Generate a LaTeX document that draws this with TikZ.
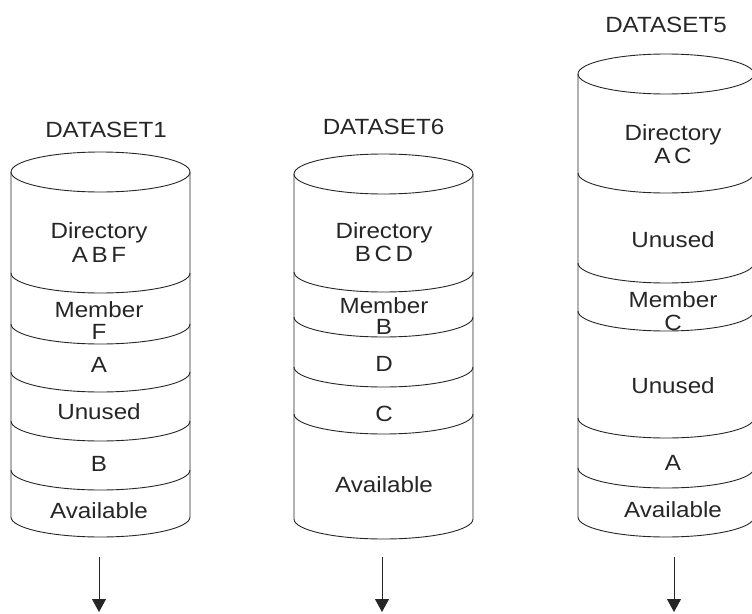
\documentclass[tikz,border=0pt]{standalone}
\usepackage{fontspec}
\setmainfont{Liberation Sans}[FakeStretch=1.1]
\usetikzlibrary{arrows.meta}
% #1 cx, #2 half width, #3 top ellipse centre y, #4 bottom side y, #5 separator side ys
\newcommand\drawdrum[5]{%
  \draw (#1,-#3) ellipse[x radius=#2, y radius=20];
  \draw (#1-#2,-#3) -- (#1-#2,-#4) arc[start angle=180, end angle=360, x radius=#2, y radius=20] -- (#1+#2,-#3);
  \foreach \s in {#5} {\draw (#1-#2,-\s) arc[start angle=180, end angle=360, x radius=#2, y radius=20];}
}
\tikzset{
  lbl/.style={anchor=base, inner sep=0pt, font=\fontsize{22}{24}\selectfont, text=black!85},
  flow/.style={-{Triangle[width=14pt,length=13pt]}, line width=0.9pt}
}
\begin{document}
\begin{tikzpicture}[x=1pt, y=1pt, line width=0.9pt, draw=black!85]
\path[use as bounding box, clip] (0,0) rectangle (752,-613);

% DATASET1
\drawdrum{100.5}{89.5}{172}{517}{273,324,372,421,470}
\node[lbl] (t1) at (106,-137) {DATASET1};
\node[lbl] (d1) at (99,-238) {Directory};
\node[lbl] (d1b) at (99,-262) {A\,B\,F};
\node[lbl] (m1) at (99,-317) {Member};
\node[lbl] (m1b) at (99,-339) {F};
\node[lbl] (a1) at (99,-372) {A};
\node[lbl] (u1) at (99,-419) {Unused};
\node[lbl] (b1) at (99,-471) {B};
\node[lbl] (v1) at (99,-518) {Available};
\coordinate (s1) at (99,-557);
\coordinate (e1) at (99,-612);
\draw[flow] (s1) -- (e1);

% DATASET6
\drawdrum{383.5}{89.5}{174}{519}{272,317,367,414}
\node[lbl] (t2) at (383.5,-134) {DATASET6};
\node[lbl] (d2) at (384,-238) {Directory};
\node[lbl] (d2b) at (384,-261) {B\,C\,D};
\node[lbl] (m2) at (384,-313) {Member};
\node[lbl] (m2b) at (384,-334) {B};
\node[lbl] (dd2) at (384,-371) {D};
\node[lbl] (c2) at (384,-421) {C};
\node[lbl] (v2) at (384,-492) {Available};
\coordinate (s2) at (382,-557);
\coordinate (e2) at (382,-612);
\draw[flow] (s2) -- (e2);

% DATASET5
\drawdrum{666}{88}{74}{517}{173,263,311,418,468}
\node[lbl] (t3) at (666,-32) {DATASET5};
\node[lbl] (d3) at (673,-140) {Directory};
\node[lbl] (d3b) at (673,-163) {A\,C};
\node[lbl] (u3) at (673,-247) {Unused};
\node[lbl] (m3) at (673,-307) {Member};
\node[lbl] (m3b) at (673,-330) {C};
\node[lbl] (u3b) at (673,-393) {Unused};
\node[lbl] (a3) at (673,-470) {A};
\node[lbl] (v3) at (673,-517) {Available};
\coordinate (s3) at (674,-557);
\coordinate (e3) at (674,-612);
\draw[flow] (s3) -- (e3);
\end{tikzpicture}
\end{document}
